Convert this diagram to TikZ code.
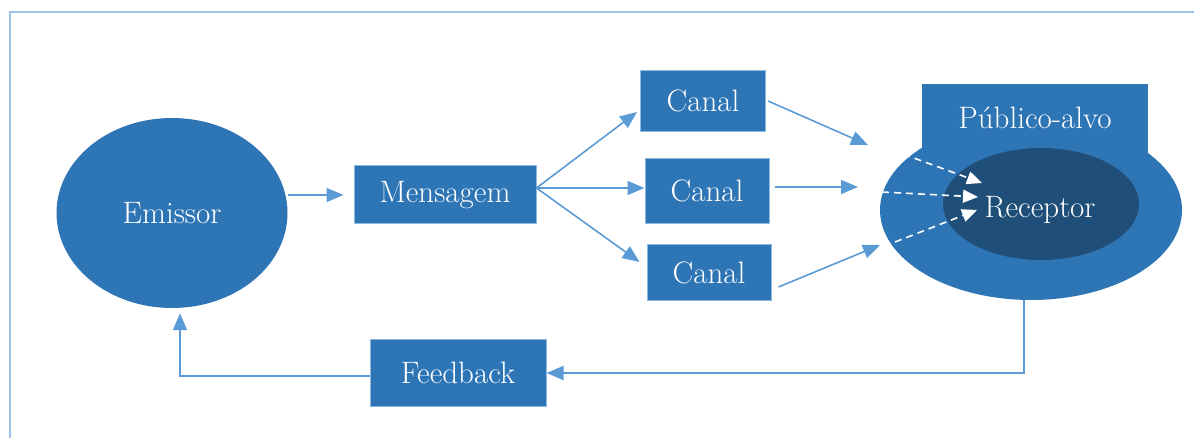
\documentclass[tikz,border=0pt]{standalone}
\usetikzlibrary{arrows.meta,shapes.geometric}
\definecolor{boxblue}{HTML}{2E75B6}
\definecolor{darkblue}{HTML}{1F4E79}
\definecolor{lineblue}{HTML}{5B9BD5}
\definecolor{frameblue}{HTML}{9DC3E6}
\tikzset{
  blk/.style={rectangle,fill=boxblue,draw=lineblue!70!white,line width=1pt,
    text=white,inner sep=0pt,font=\fontsize{31}{36}\selectfont},
  oval/.style={ellipse,fill=boxblue,draw=none,inner sep=0pt,
    text=white,font=\fontsize{31}{36}\selectfont},
  flow/.style={draw=lineblue,line width=1.6pt,-{Triangle[length=17pt,width=14pt]}},
  hint/.style={draw=white,line width=1.6pt,dashed,dash pattern=on 7pt off 5pt,
    -{Triangle[length=15pt,width=13pt]}}
}
\begin{document}
\begin{tikzpicture}[x=1pt,y=-1pt]
  \useasboundingbox (0,0) rectangle (1194,438);
  \draw [frameblue,line width=2pt] (10,438) -- (10,12) -- (1194,12);
  % sender side
  \node [oval,minimum width=231pt,minimum height=190pt] (emissor) at (172,213) {Emissor};
  \node [blk,minimum width=182pt,minimum height=58pt] (mensagem) at (445,195) {Mensagem};
  \node [blk,minimum width=125pt,minimum height=61pt] (canalA) at (703,101) {Canal};
  \node [blk,minimum width=124pt,minimum height=65pt] (canalB) at (707,191) {Canal};
  \node [blk,minimum width=124pt,minimum height=56pt] (canalC) at (709,273) {Canal};
  \node [blk,minimum width=176pt,minimum height=67pt] (feedback) at (458,373) {Feedback};
  % audience
  \node [oval,minimum width=302pt,minimum height=180pt] (publico) at (1031,210) {};
  \node [blk,draw=none,minimum width=226pt,minimum height=75pt] (tab) at (1035,122) {};
  \node [text=white,font=\fontsize{31}{36}\selectfont] (tablabel) at (1035,118) {Público-alvo};
  \node [oval,fill=darkblue,minimum width=196pt,minimum height=112pt] (receptor) at (1041,204) {};
  \node [text=white,font=\fontsize{31}{36}\selectfont] (receptorlabel) at (1040,210) {Receptor};
  \coordinate (inA) at (868,145);
  \coordinate (inB) at (858,187);
  \coordinate (inC) at (880,245);
  \coordinate (dA) at (892,150);
  \coordinate (dB) at (882,192);
  \coordinate (dC) at (895,242);
  \coordinate (tA) at (982,183);
  \coordinate (tB) at (978,197);
  \coordinate (tC) at (977,210);
  % connectors
  \draw [flow,shorten >=10pt] (emissor.east |- mensagem.west) -- (mensagem.west);
  \draw [flow] ([yshift=7pt]mensagem.east) -- ([xshift=-3pt,yshift=-11pt]canalA.west);
  \draw [flow] ([yshift=7pt]mensagem.east) -- ([yshift=3pt]canalB.west);
  \draw [flow] ([yshift=7pt]mensagem.east) -- ([xshift=-7pt,yshift=11pt]canalC.west);
  \draw [flow] ([xshift=2pt]canalA.east) -- (inA);
  \draw [flow] ([xshift=5pt,yshift=4pt]canalB.east) -- (inB);
  \draw [flow] ([xshift=7pt,yshift=-14pt]canalC.east) -- (inC);
  \draw [hint] (dA) -- (tA);
  \draw [hint] (dB) -- (tB);
  \draw [hint] (dC) -- (tC);
  \draw [flow] ([xshift=-7pt]publico.south) |- (feedback.east);
  \draw [flow,shorten >=5pt] ([yshift=-3pt]feedback.west) -| ([xshift=8pt]emissor.south);
\end{tikzpicture}
\end{document}
